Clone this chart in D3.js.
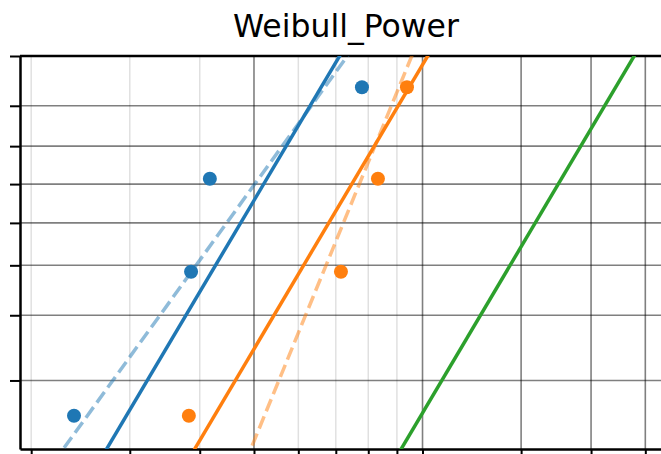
<!DOCTYPE html>
<html>
<head>
<meta charset="utf-8">
<script src="https://cdn.jsdelivr.net/npm/d3@7"></script>
<style>
	body { margin: 0; background: #fff; }
	text { font-family: "DejaVu Sans", sans-serif; }
</style>
</head>
<body>
<svg id="chart"></svg>
<script>
// grid / tick values
var xMajor = [1, 2, 3, 4, 5]
var xMinor = [0.4, 0.6, 0.8, 1.2, 1.4, 1.6, 1.8]
var yTicks = [0.2, 0.3, 0.4, 0.5, 0.6, 0.7, 0.8, 0.9]

// median ranks of the failures
var ranks = [0.159, 0.386, 0.614, 0.841]
// failure times at each stress level
var timesA = [0.477, 0.772, 0.834, 1.559]
var timesB = [0.765, 1.430, 1.665, 1.876]

// model lines (common shape) and single fits
var modelEta = [1.072, 1.540, 3.60]
var modelBeta = 2.95
var fitEta = [1.040, 1.574]
var fitBeta = [2.42, 4.27]

var colors = ["#1f77b4", "#ff7f0e", "#2ca02c"]

var width = 661,
	height = 454
var pLeft = 20, pRight = 672, pTop = 56, pBottom = 449

var svg = d3.select("#chart")
	.attr("width", width)
	.attr("height", height);

function weib(F) {
	return Math.log(-Math.log(1 - F));
}

var wBottom = -1.993, wTop = weib(0.9)

var x = d3.scaleLog().domain([0.382, 5.58]).range([pLeft, pRight])
var y = d3.scaleLinear().domain([wBottom, wTop]).range([pBottom, pTop])

svg.append("defs").append("clipPath")
	.attr("id", "clip")
	.append("rect")
	.attr("x", pLeft)
	.attr("y", pTop)
	.attr("width", pRight - pLeft)
	.attr("height", pBottom - pTop);

// grid
svg.append("g").selectAll("line")
	.data(xMinor)
	.enter().append("line")
	.attr("x1", function (d) { return x(d); })
	.attr("x2", function (d) { return x(d); })
	.attr("y1", pTop)
	.attr("y2", pBottom)
	.attr("stroke", "#000")
	.attr("stroke-opacity", 0.12)
	.attr("stroke-width", 1.5);

svg.append("g").selectAll("line")
	.data(xMajor)
	.enter().append("line")
	.attr("x1", function (d) { return x(d); })
	.attr("x2", function (d) { return x(d); })
	.attr("y1", pTop)
	.attr("y2", pBottom)
	.attr("stroke", "#000")
	.attr("stroke-opacity", 0.5)
	.attr("stroke-width", 1.6);

svg.append("g").selectAll("line")
	.data(yTicks)
	.enter().append("line")
	.attr("x1", pLeft)
	.attr("x2", pRight)
	.attr("y1", function (d) { return y(weib(d)); })
	.attr("y2", function (d) { return y(weib(d)); })
	.attr("stroke", "#000")
	.attr("stroke-opacity", 0.5)
	.attr("stroke-width", 1.6);

// axes, ticks only
var xAxis = d3.axisBottom(x)
	.tickValues(xMinor.concat(xMajor))
	.tickFormat("")
	.tickSize(8)
	.tickSizeOuter(0)
var yAxis = d3.axisLeft(y)
	.tickValues(yTicks.map(weib))
	.tickFormat("")
	.tickSize(10)
	.tickSizeOuter(0)

svg.append("g")
	.attr("transform", "translate(0," + pBottom + ")")
	.call(xAxis)
	.call(function (g) {
		g.selectAll("line").attr("stroke-width", 2);
		g.select(".domain").attr("stroke-width", 2.5);
	});
svg.append("g")
	.attr("transform", "translate(" + pLeft + ",0)")
	.call(yAxis)
	.call(function (g) {
		g.selectAll("line").attr("stroke-width", 2);
		g.select(".domain").attr("stroke-width", 2.5);
	});
svg.append("line")
	.attr("x1", pLeft)
	.attr("x2", pRight)
	.attr("y1", pTop)
	.attr("y2", pTop)
	.attr("stroke", "#000")
	.attr("stroke-width", 2.5);

// fitted lines
var plot = svg.append("g").attr("clip-path", "url(#clip)")

function lineData(eta, beta) {
	return [wBottom - 0.1, wTop + 0.1].map(function (w) {
		return { t: eta * Math.exp(w / beta), w: w };
	});
}
var line = d3.line()
	.x(function (d) { return x(d.t); })
	.y(function (d) { return y(d.w); })

fitEta.forEach(function (eta, i) {
	plot.append("path")
		.attr("d", line(lineData(eta, fitBeta[i])))
		.attr("fill", "none")
		.attr("stroke", colors[i])
		.attr("stroke-opacity", 0.5)
		.attr("stroke-width", 3.5)
		.attr("stroke-dasharray", "13,5.6");
});

modelEta.forEach(function (eta, i) {
	plot.append("path")
		.attr("d", line(lineData(eta, modelBeta)))
		.attr("fill", "none")
		.attr("stroke", colors[i])
		.attr("stroke-width", 3.5);
});

// failure points
;[timesA, timesB].forEach(function (times, i) {
	plot.selectAll(".pt" + i)
		.data(times)
		.enter().append("circle")
		.attr("class", "pt" + i)
		.attr("cx", function (d) { return x(d); })
		.attr("cy", function (d, j) { return y(weib(ranks[j])); })
		.attr("r", 7)
		.attr("fill", colors[i]);
});

svg.append("text")
	.attr("x", 346)
	.attr("y", 37)
	.attr("text-anchor", "middle")
	.style("font-size", "31.5px")
	.attr("fill", "#000")
	.text("Weibull_Power");
</script>
</body>
</html>
